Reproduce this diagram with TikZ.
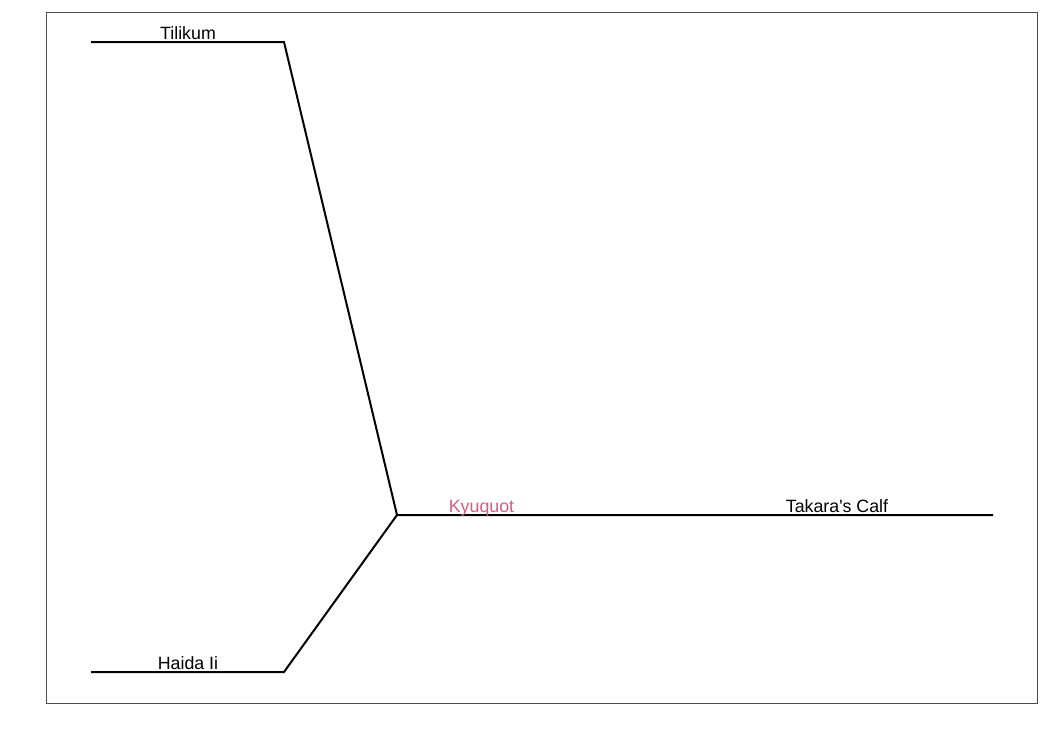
\documentclass[tikz,border=0pt]{standalone}
\usepackage{fontspec}
\setmainfont{Liberation Sans}
\definecolor{kyupink}{RGB}{214,92,128}
\tikzset{
  branch/.style={line width=2pt},
  tiplabel/.style={anchor=base, inner sep=0pt, font=\fontsize{17.8}{20}\selectfont}
}
\begin{document}
\begin{tikzpicture}[x=1pt,y=-1pt]
\useasboundingbox (0,0) rectangle (1050,750);
\draw[gray!60!black, line width=0.9pt] (46,12) rectangle (1037,703);
\coordinate (t1) at (91,42);
\coordinate (t2) at (284,42);
\coordinate (h1) at (91,672);
\coordinate (h2) at (284,672);
\coordinate (k) at (397,515);
\coordinate (c) at (993,515);
\draw[branch] (t1) -- (t2) -- (k)
  (h1) -- (h2) -- (k)
  (k) -- (c);
\node[tiplabel] (tilikum) at (188,39) {Tilikum};
\node[tiplabel] (haida) at (188,669) {Haida Ii};
\node[tiplabel, text=kyupink] (kyuquot) at (481.5,512) {Kyuquot};
\node[tiplabel] (calf) at (837,512) {Takara\textquotesingle s Calf};
\end{tikzpicture}
\end{document}
